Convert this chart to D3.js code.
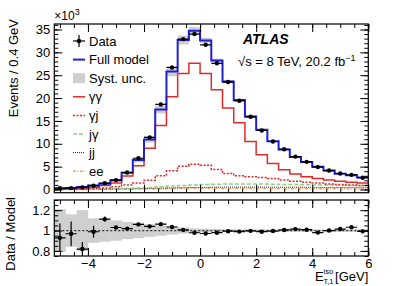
<!DOCTYPE html>
<html>
<head>
<meta charset="utf-8">
<script src="https://cdn.jsdelivr.net/npm/d3@7"></script>
<style>
  body { margin: 0; background: #fff; }
  svg { display: block; font-family: 'Liberation Sans', Arial, sans-serif; }
</style>
</head>
<body>
<div id="chart"></div>
<script>
// DATA ------------------------------
const binEdges = [-5.2, -4.8, -4.4, -4.0, -3.6, -3.2, -2.8, -2.4, -2.0, -1.6, -1.2, -0.8, -0.4, 0.0,
  0.4, 0.8, 1.2, 1.6, 2.0, 2.4, 2.8, 3.2, 3.6, 4.0, 4.4, 4.8, 5.2, 5.6, 6.0];
// events per bin, in thousands
const dataValues = [0.26, 0.31, 0.45, 0.84, 1.39, 2.06, 3.72, 6.84, 11.4, 18.6, 26.7, 32.9, 34.0, 31.65,
  27.6, 23.5, 19.4, 15.9, 12.9, 10.5, 8.8, 7.2, 6.05, 4.9, 4.15, 3.5, 3.2, 2.58];
const fullModel = [0.28, 0.32, 0.55, 0.85, 1.25, 2.0, 3.65, 6.45, 10.95, 17.5, 25.8, 32.7, 34.75, 32.6,
  28.2, 23.65, 19.6, 15.95, 13.05, 10.55, 8.75, 7.1, 6.0, 5.0, 4.15, 3.45, 3.1, 2.6];
const gammaGamma = [0.1, 0.15, 0.3, 0.5, 0.85, 1.4, 2.95, 5.2, 9.0, 14.0, 20.3, 25.4, 27.6, 25.4,
  21.8, 17.8, 14.6, 10.5, 7.6, 5.7, 4.3, 3.4, 2.8, 2.4, 2.1, 1.8, 1.6, 1.4];
const gammaJet = [0.05, 0.08, 0.12, 0.2, 0.35, 0.6, 1.0, 1.4, 2.0, 3.0, 4.1, 5.1, 5.5, 5.3,
  4.4, 3.5, 3.0, 2.8, 2.6, 2.4, 2.1, 1.8, 1.6, 1.4, 1.2, 1.1, 1.0, 0.9];
const jetGamma = [0.02, 0.03, 0.05, 0.08, 0.12, 0.18, 0.25, 0.35, 0.45, 0.6, 0.75, 0.9, 1.0, 1.1,
  1.15, 1.2, 1.2, 1.2, 1.2, 1.15, 1.1, 1.1, 1.05, 1.0, 1.0, 0.95, 0.9, 0.9];
const jetJet = [0.02, 0.03, 0.04, 0.06, 0.08, 0.12, 0.16, 0.2, 0.25, 0.3, 0.35, 0.4, 0.45, 0.48,
  0.5, 0.52, 0.52, 0.52, 0.52, 0.5, 0.5, 0.5, 0.48, 0.46, 0.45, 0.44, 0.42, 0.4];
const electrons = [0.01, 0.01, 0.02, 0.03, 0.04, 0.06, 0.08, 0.1, 0.13, 0.16, 0.2, 0.22, 0.25, 0.25,
  0.25, 0.24, 0.23, 0.22, 0.21, 0.2, 0.19, 0.18, 0.17, 0.16, 0.15, 0.14, 0.13, 0.12];
// relative systematic uncertainty of the model
const systUnc = [0.21, 0.16, 0.2, 0.12, 0.11, 0.1, 0.085, 0.075, 0.062, 0.05, 0.04, 0.03, 0.022, 0.018,
  0.015, 0.013, 0.012, 0.012, 0.011, 0.011, 0.011, 0.011, 0.011, 0.011, 0.012, 0.012, 0.012, 0.012];
// statistical error of data / model
const ratioErr = [0.14, 0.12, 0.07, 0.06, 0.025, 0.015, 0.01, 0.008, 0.006, 0.005, 0.005, 0.005, 0.005, 0.005,
  0.005, 0.005, 0.005, 0.006, 0.006, 0.007, 0.008, 0.009, 0.01, 0.011, 0.012, 0.013, 0.014, 0.015];

const xTicks = [-4, -2, 0, 2, 4, 6];
const yTicks = [0, 5, 10, 15, 20, 25, 30, 35];
const ratioTicks = [0.8, 1, 1.2];

const legendItems = [
  { label: 'Data', kind: 'data' },
  { label: 'Full model', kind: 'line', color: '#1f1fd6', width: 2, dash: null },
  { label: 'Syst. unc.', kind: 'box' },
  { label: 'γγ', kind: 'line', color: '#e02a2a', width: 1.5, dash: null },
  { label: 'γj', kind: 'line', color: '#e02a2a', width: 1.5, dash: '2,1.5' },
  { label: 'jγ', kind: 'line', color: '#8fd08f', width: 1.5, dash: '4,2' },
  { label: 'jj', kind: 'line', color: '#222', width: 1, dash: '1,1' },
  { label: 'ee', kind: 'line', color: '#f0a060', width: 1.5, dash: '3,1.5,1,1.5' },
];

// LAYOUT ----------------------------
const w = 415;
const h = 286;
const main = { left: 54.3, right: 368.3, top: 24, bottom: 192.7 };
const lower = { top: 200, bottom: 256 };

const svg = d3.select('#chart').append('svg').attr('width', w).attr('height', h);

// SCALES ----------------------------
const x = d3.scaleLinear().domain([-5.2, 6]).range([main.left, main.right]);
const y = d3.scaleLinear().domain([-0.7, 36.2]).range([main.bottom, main.top]);
const yr = d3.scaleLinear().domain([0.75, 1.3]).range([lower.bottom, lower.top]);

const bins = dataValues.map((d, i) => ({
  x0: binEdges[i],
  x1: binEdges[i + 1],
  xc: (binEdges[i] + binEdges[i + 1]) / 2,
  data: d,
  model: fullModel[i],
  syst: systUnc[i],
  ratio: d / fullModel[i],
  rErr: ratioErr[i],
}));

svg.append('clipPath').attr('id', 'clip-main').append('rect')
  .attr('x', main.left).attr('y', main.top)
  .attr('width', main.right - main.left).attr('height', main.bottom - main.top);
svg.append('clipPath').attr('id', 'clip-low').append('rect')
  .attr('x', main.left).attr('y', lower.top)
  .attr('width', main.right - main.left).attr('height', lower.bottom - lower.top);

const gMain = svg.append('g').attr('clip-path', 'url(#clip-main)');
const gLow = svg.append('g').attr('clip-path', 'url(#clip-low)');

// MAIN PANEL ------------------------
gMain.selectAll('rect.syst').data(bins).enter().append('rect')
  .attr('class', 'syst')
  .attr('x', (d) => x(d.x0))
  .attr('width', (d) => x(d.x1) - x(d.x0))
  .attr('y', (d) => y(d.model * (1 + d.syst)))
  .attr('height', (d) => y(d.model * (1 - d.syst)) - y(d.model * (1 + d.syst)))
  .attr('fill', '#cfcfcf');

const stepLine = (values) => {
  const pts = values.map((v, i) => [binEdges[i], v]);
  pts.push([binEdges[binEdges.length - 1], values[values.length - 1]]);
  return d3.line().x((d) => x(d[0])).y((d) => y(d[1])).curve(d3.curveStepAfter)(pts);
};

const components = [
  { values: electrons, item: legendItems[7] },
  { values: jetJet, item: legendItems[6] },
  { values: jetGamma, item: legendItems[5] },
  { values: gammaJet, item: legendItems[4] },
  { values: gammaGamma, item: legendItems[3] },
  { values: fullModel, item: legendItems[1] },
];
components.forEach((c) => {
  gMain.append('path')
    .attr('d', stepLine(c.values))
    .attr('fill', 'none')
    .attr('stroke', c.item.color)
    .attr('stroke-width', c.item.width)
    .attr('stroke-dasharray', c.item.dash);
});

const points = gMain.selectAll('g.pt').data(bins).enter().append('g').attr('class', 'pt');
points.append('line')
  .attr('x1', (d) => x(d.x0)).attr('x2', (d) => x(d.x1))
  .attr('y1', (d) => y(d.data)).attr('y2', (d) => y(d.data))
  .attr('stroke', '#000').attr('stroke-width', 1.2);
points.append('line')
  .attr('x1', (d) => x(d.xc)).attr('x2', (d) => x(d.xc))
  .attr('y1', (d) => y(d.data - d.rErr * d.model)).attr('y2', (d) => y(d.data + d.rErr * d.model))
  .attr('stroke', '#000').attr('stroke-width', 1.2);
points.append('circle')
  .attr('cx', (d) => x(d.xc)).attr('cy', (d) => y(d.data))
  .attr('r', 2.2).attr('fill', '#000');

// RATIO PANEL -----------------------
gLow.selectAll('rect.band').data(bins).enter().append('rect')
  .attr('x', (d) => x(d.x0))
  .attr('width', (d) => x(d.x1) - x(d.x0) + 0.3)
  .attr('y', (d) => yr(1 + d.syst))
  .attr('height', (d) => yr(1 - d.syst) - yr(1 + d.syst))
  .attr('fill', '#cfcfcf');

gLow.append('line')
  .attr('x1', x(-5.2)).attr('x2', x(6))
  .attr('y1', yr(1)).attr('y2', yr(1))
  .attr('stroke', '#333').attr('stroke-width', 1.2).attr('stroke-dasharray', '2,2');

const rpts = gLow.selectAll('g.rpt').data(bins).enter().append('g');
rpts.append('line')
  .attr('x1', (d) => x(d.x0)).attr('x2', (d) => x(d.x1))
  .attr('y1', (d) => yr(d.ratio)).attr('y2', (d) => yr(d.ratio))
  .attr('stroke', '#000').attr('stroke-width', 1.2);
rpts.append('line')
  .attr('x1', (d) => x(d.xc)).attr('x2', (d) => x(d.xc))
  .attr('y1', (d) => yr(d.ratio - d.rErr)).attr('y2', (d) => yr(d.ratio + d.rErr))
  .attr('stroke', '#000').attr('stroke-width', 1.2);
rpts.append('circle')
  .attr('cx', (d) => x(d.xc)).attr('cy', (d) => yr(d.ratio))
  .attr('r', 2.2).attr('fill', '#000');

// AXES ------------------------------
const range = (a, b, s) => d3.range(Math.round((b - a) / s) + 1).map((i) => +(a + i * s).toFixed(3));
const xMinor = range(-5, 6, 0.5);
const yMinor = range(0, 36, 1);
const rMinor = range(0.75, 1.3, 0.05);

function drawAxes(yScale, top, bottom, majors, minors, withLabels, fmt) {
  const g = svg.append('g').attr('class', 'axes');
  // x bottom + top
  g.append('g').attr('transform', `translate(0,${bottom})`)
    .call(d3.axisBottom(x).tickValues(xMinor).tickSize(-4).tickFormat(''));
  g.append('g').attr('transform', `translate(0,${bottom})`)
    .call(d3.axisBottom(x).tickValues(xTicks).tickSize(-8).tickPadding(3)
      .tickFormat(withLabels ? (d) => (d < 0 ? '\u2212' + Math.abs(d) : d) : ''));
  g.append('g').attr('transform', `translate(0,${top})`)
    .call(d3.axisTop(x).tickValues(xMinor).tickSize(-4).tickFormat(''));
  g.append('g').attr('transform', `translate(0,${top})`)
    .call(d3.axisTop(x).tickValues(xTicks).tickSize(-8).tickFormat(''));
  // y left + right
  g.append('g').attr('transform', `translate(${main.left},0)`)
    .call(d3.axisLeft(yScale).tickValues(minors).tickSize(-4).tickFormat(''));
  g.append('g').attr('transform', `translate(${main.left},0)`)
    .call(d3.axisLeft(yScale).tickValues(majors).tickSize(-8).tickPadding(4).tickFormat(fmt));
  g.append('g').attr('transform', `translate(${main.right},0)`)
    .call(d3.axisRight(yScale).tickValues(minors).tickSize(-4).tickFormat(''));
  g.append('g').attr('transform', `translate(${main.right},0)`)
    .call(d3.axisRight(yScale).tickValues(majors).tickSize(-8).tickFormat(''));
  g.selectAll('.domain').remove();
  g.selectAll('.tick line').attr('stroke', '#000').attr('stroke-width', 1);
  g.selectAll('.tick text').attr('fill', '#000').style('font-size', '13px')
    .style('font-family', "'Liberation Sans', Arial, sans-serif");
  g.append('rect')
    .attr('x', main.left).attr('y', top)
    .attr('width', main.right - main.left).attr('height', bottom - top)
    .attr('fill', 'none').attr('stroke', '#000').attr('stroke-width', 1.2);
}
drawAxes(y, main.top, main.bottom, yTicks, yMinor, false, (d) => d);
drawAxes(yr, lower.top, lower.bottom, ratioTicks, rMinor, true, (d) => d);

// LABELS ----------------------------
svg.append('text')
  .attr('x', main.left).attr('y', 20)
  .style('font-size', '12px')
  .html('×10<tspan dy="-5" font-size="9px">3</tspan>');

svg.append('text')
  .attr('transform', `translate(18,${main.top - 5}) rotate(-90)`)
  .attr('text-anchor', 'end')
  .style('font-size', '13px')
  .text('Events / 0.4 GeV');

svg.append('text')
  .attr('transform', `translate(15,${lower.top - 3}) rotate(-90)`)
  .attr('text-anchor', 'end')
  .style('font-size', '13px')
  .text('Data / Model');

// x title: E with iso superscript and T,1 subscript, then the unit
const xTitleY = 281;
svg.append('text').attr('x', 315).attr('y', xTitleY).style('font-size', '13px').text('E');
svg.append('text').attr('x', 323.5).attr('y', xTitleY - 7).style('font-size', '7.5px').text('iso');
svg.append('text').attr('x', 323.5).attr('y', xTitleY + 3).style('font-size', '7.5px').text('T,1');
svg.append('text').attr('x', main.right).attr('y', xTitleY).attr('text-anchor', 'end')
  .style('font-size', '13px').text('[GeV]');

svg.append('text')
  .attr('x', 243).attr('y', 44)
  .style('font-size', '14px').style('font-weight', 'bold').style('font-style', 'italic')
  .text('ATLAS');

const lumi = svg.append('text')
  .attr('x', 238).attr('y', 66)
  .style('font-size', '13px');
lumi.append('tspan').text('\u221As = 8 TeV, 20.2 fb');
lumi.append('tspan').attr('dy', -5).attr('font-size', '9px').text('\u22121');

// LEGEND ----------------------------
const legend = svg.append('g');
const legY = (i) => 41 + i * 18.6;
legendItems.forEach((item, i) => {
  const cy = legY(i);
  if (item.kind === 'data') {
    legend.append('line').attr('x1', 73).attr('x2', 85).attr('y1', cy).attr('y2', cy)
      .attr('stroke', '#000').attr('stroke-width', 1.2);
    legend.append('line').attr('x1', 79).attr('x2', 79).attr('y1', cy - 6).attr('y2', cy + 6)
      .attr('stroke', '#000').attr('stroke-width', 1.2);
    legend.append('circle').attr('cx', 79).attr('cy', cy).attr('r', 2.2).attr('fill', '#000');
  } else if (item.kind === 'box') {
    legend.append('rect').attr('x', 73).attr('y', cy - 5).attr('width', 12).attr('height', 10)
      .attr('fill', '#cfcfcf');
  } else {
    legend.append('line').attr('x1', 73).attr('x2', 85).attr('y1', cy).attr('y2', cy)
      .attr('stroke', item.color).attr('stroke-width', item.width)
      .attr('stroke-dasharray', item.dash);
  }
  legend.append('text')
    .attr('x', 89).attr('y', cy + 4.5)
    .style('font-size', '13px')
    .text(item.label);
});
</script>
</body>
</html>
